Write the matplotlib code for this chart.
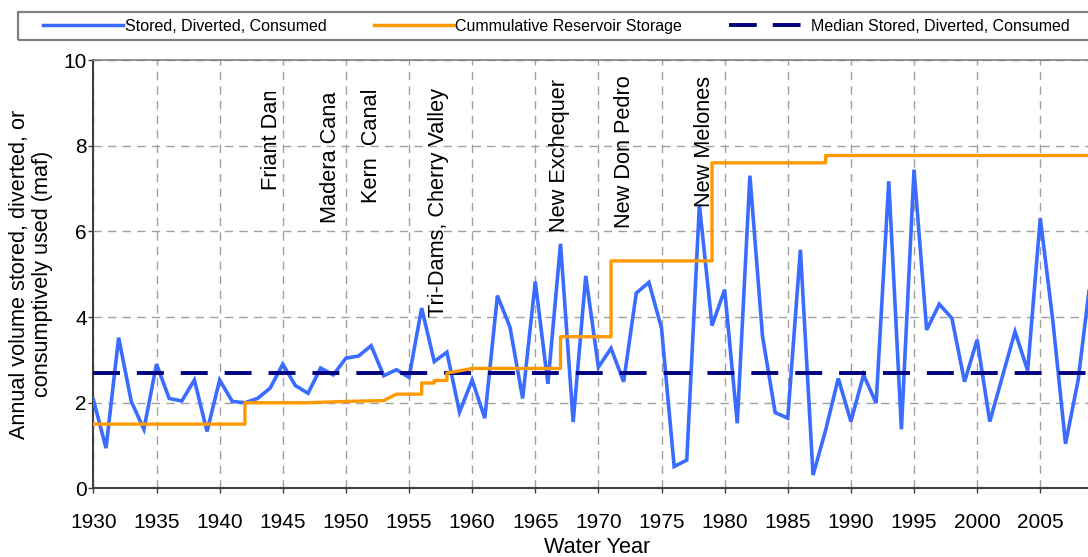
import numpy as np
import matplotlib
matplotlib.use("Agg")
import matplotlib.pyplot as plt
import matplotlib.patches as mpatches
from matplotlib.lines import Line2D
from matplotlib.transforms import Bbox, TransformedBbox

# Annual volume stored, diverted or consumed (maf)...
years = list(range(1930, 2010))
volume = [
    2.07, 0.94, 3.52, 2.03, 1.38, 2.90, 2.10, 2.04, 2.53, 1.33,   # 1930s
    2.53, 2.03, 2.00, 2.10, 2.34, 2.90, 2.40, 2.22, 2.81, 2.65,   # 1940s
    3.04, 3.09, 3.33, 2.63, 2.77, 2.59, 4.21, 2.96, 3.18, 1.78,   # 1950s
    2.53, 1.64, 4.50, 3.76, 2.10, 4.83, 2.44, 5.71, 1.55, 4.96,   # 1960s
    2.83, 3.27, 2.49, 4.56, 4.81, 3.74, 0.51, 0.66, 6.62, 3.80,   # 1970s
    4.64, 1.52, 7.30, 3.55, 1.77, 1.64, 5.57, 0.31, 1.36, 2.57,   # 1980s
    1.56, 2.65, 1.99, 7.17, 1.38, 7.44, 3.70, 4.30, 3.97, 2.49,   # 1990s
    3.47, 1.56, 2.61, 3.66, 2.75, 6.31, 3.90, 1.04, 2.53, 4.95,   # 2000s
]

# Cumulative reservoir storage (maf), step vertices...
storage_years  = [1930, 1942, 1942, 1947, 1950, 1953, 1954, 1956, 1956, 1957, 1957,
                  1958, 1958, 1960, 1967, 1967, 1971, 1971, 1979, 1979, 1988, 1988, 2009]
storage_values = [1.50, 1.50, 2.00, 2.00, 2.03, 2.05, 2.20, 2.20, 2.46, 2.46, 2.52,
                  2.52, 2.69, 2.80, 2.80, 3.54, 3.54, 5.31, 5.31, 7.60, 7.60, 7.77, 7.77]

median_value = 2.70

# Project annotations: label, year, start of text in maf, clipped or not
project_labels = ["Friant Dam", "Madera Canal", "Kern  Canal", "Tri-Dams, Cherry Valley",
                  "New Exchequer", "New Don Pedro", "New Melones"]
project_years  = [1944.1, 1948.8, 1952.0, 1957.3, 1966.9, 1972.1, 1978.4]
project_bottom = [6.97, 6.20, 6.67, 4.01, 5.99, 6.08, 6.58]
project_clip   = [True, True, False, False, False, False, False]

series_labels = ["Stored, Diverted, Consumed", "Cummulative Reservoir Storage",
                 "Median Stored, Diverted, Consumed"]

BLUE   = "#3a6dff"
ORANGE = "#ff9900"
NAVY   = "#000080"

plt.rcParams['font.family'] = ['Liberation Sans', 'DejaVu Sans']
plt.rcParams['lines.scale_dashes'] = False

W, H = 1088, 557
fig = plt.figure(figsize = (W / 100, H / 100), dpi = 100)
fig.patch.set_facecolor("white")

# Plot area runs a bit past the right edge of the picture...
x0_px, x1_px, y0_px, y1_px = 93.4, 1100.0, 60.0, 488.4
ax = fig.add_axes([x0_px / W, 1 - y1_px / H, (x1_px - x0_px) / W, (y1_px - y0_px) / H])
ax.set_xlim(1930, 1930 + (x1_px - x0_px) / 12.625)
ax.set_ylim(0, 10)

# Grid...
ax.set_xticks(np.arange(1930, 2010, 5))
ax.set_yticks(np.arange(0, 11, 2))
ax.grid(True, color = "#a0a0a0", linewidth = 1.0, dashes = (6, 4.5))
ax.set_axisbelow(True)

# Series...
ax.plot(years, volume, color = BLUE, linewidth = 2.6, zorder = 3, solid_joinstyle = "miter")
ax.axhline(median_value, color = NAVY, linewidth = 2.8, dashes = (19.4, 12.2), zorder = 4)
ax.plot(storage_years, storage_values, color = ORANGE, linewidth = 2.4, zorder = 5)

# Spines and ticks...
for side in ["left", "bottom"]:
    ax.spines[side].set_color("#404040")
    ax.spines[side].set_linewidth(1.5)
ax.spines["top"].set_color("#808080")
ax.spines["top"].set_linewidth(1.2)
ax.spines["right"].set_visible(False)
ax.tick_params(axis = "both", direction = "out", length = 3.8, width = 1.0,
               color = "#404040", labelsize = 15, labelcolor = "black")
ax.tick_params(axis = "x", pad = 14)
ax.tick_params(axis = "y", pad = 1)

ax.set_xlabel("Water Year", fontsize = 15.6)
ax.xaxis.set_label_coords(0.5, -0.114)
ax.set_ylabel("Annual volume stored, diverted, or\nconsumptively used (maf)", fontsize = 15.6,
              linespacing = 1.15)
ax.yaxis.set_label_coords(-0.040, 0.5)

# Project labels, some are cut off at the top like in the original text boxes...
clip_bbox = TransformedBbox(Bbox([[0, 0], [1, 1 - 91.7 / H]]), fig.transFigure)
for label, yr, bottom, clip in zip(project_labels, project_years, project_bottom, project_clip):
    t = ax.text(yr, bottom, label, rotation = 90, ha = "center", va = "bottom",
                fontsize = 15.7, color = "black", zorder = 6)
    if clip:
        t.set_clip_box(clip_bbox)
        t.set_clip_on(True)

# Legend box across the top...
box = mpatches.Rectangle((18 / W, 1 - 40 / H), (1100 - 18) / W, 28.3 / H,
                         transform = fig.transFigure, fill = False,
                         edgecolor = "#808080", linewidth = 1.6)
fig.add_artist(box)

handles = [Line2D([], [], color = BLUE, linewidth = 2.5),
           Line2D([], [], color = ORANGE, linewidth = 2.5),
           Line2D([], [], color = NAVY, linewidth = 2.8, dashes = (20, 11.5))]
fig.legend(handles, series_labels, loc = "center left", ncol = 3, mode = "expand",
           bbox_to_anchor = (43 / W, 1 - 26.5 / H, (1070 - 43) / W, 0),
           frameon = False, fontsize = 11.5, handlelength = 5.0, handletextpad = 0.12,
           borderpad = 0, borderaxespad = 0)

fig.savefig("out.png", dpi = 100, facecolor = "white")
